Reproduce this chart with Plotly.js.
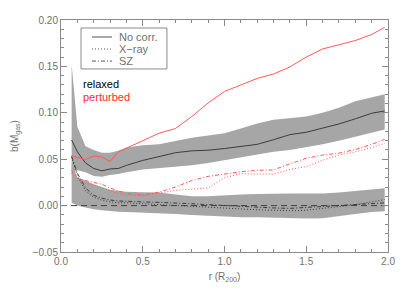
<!DOCTYPE html>
<html>
<head>
<meta charset="utf-8">
<script src="https://cdn.plot.ly/plotly-3.0.1.min.js"></script>
<style>html,body{margin:0;padding:0;background:#fff;}#plot{width:407px;height:291px;}</style>
</head>
<body>
<div id="plot"></div>
<script>
// radius in units of R200
var r = [0.065,0.1,0.15,0.2,0.25,0.3,0.35,0.4,0.5,0.6,0.7,0.8,0.9,1.0,1.1,1.2,1.3,1.4,1.5,1.6,1.7,1.8,1.9,1.98];

// relaxed, no correction: scatter band (upper/lower) and median
var relNoCorrHi = [0.152,0.085,0.064,0.060,0.057,0.057,0.059,0.0625,0.065,0.066,0.0695,0.073,0.0755,0.078,0.083,0.0885,0.0925,0.094,0.096,0.100,0.1055,0.1125,0.1165,0.120];
var relNoCorrLo = [0.035,0.038,0.036,0.032,0.031,0.033,0.034,0.036,0.039,0.0405,0.042,0.0435,0.046,0.049,0.052,0.055,0.058,0.060,0.063,0.066,0.070,0.074,0.078,0.082];
var relNoCorr   = [0.0707,0.058,0.046,0.040,0.0375,0.0395,0.040,0.0433,0.0487,0.0525,0.057,0.059,0.0597,0.0615,0.064,0.066,0.071,0.0765,0.079,0.0835,0.088,0.0935,0.0995,0.102];

// relaxed, corrected: scatter band
var relCorrHi = [0.045,0.030,0.027,0.023,0.020,0.017,0.016,0.015,0.0145,0.014,0.012,0.010,0.010,0.0112,0.012,0.0125,0.013,0.013,0.013,0.013,0.014,0.0155,0.017,0.0186];
var relCorrLo = [0.003,0.000,-0.002,-0.004,-0.005,-0.006,-0.0065,-0.007,-0.0075,-0.008,-0.009,-0.010,-0.011,-0.012,-0.0125,-0.0125,-0.013,-0.0135,-0.014,-0.0135,-0.011,-0.009,-0.007,-0.006];
var relXray = [0.052,0.032,0.016,0.009,0.006,0.004,0.003,0.003,0.002,0.001,0.0,-0.001,-0.002,-0.003,-0.004,-0.0045,-0.005,-0.0055,-0.005,-0.003,-0.001,0.001,0.004,0.0065];
var relSZ   = [0.053,0.035,0.019,0.011,0.008,0.006,0.005,0.0045,0.004,0.0035,0.003,0.002,0.001,0.0,-0.001,-0.002,-0.0025,-0.003,-0.002,-0.001,0.0,0.001,0.002,0.003];

// perturbed
var perNoCorr = [0.054,0.0517,0.0497,0.0534,0.0524,0.0475,0.0578,0.062,0.0696,0.078,0.0831,0.096,0.1106,0.123,0.130,0.137,0.1418,0.1494,0.160,0.1688,0.1733,0.1779,0.1844,0.1921];
var perXray   = [0.035,0.027,0.024,0.022,0.019,0.016,0.013,0.011,0.0105,0.0135,0.0165,0.0178,0.019,0.030,0.0345,0.034,0.034,0.039,0.042,0.049,0.0545,0.058,0.0625,0.0671];
var perSZ     = [0.038,0.029,0.027,0.025,0.023,0.019,0.016,0.013,0.0115,0.0145,0.020,0.027,0.0315,0.034,0.0365,0.038,0.0385,0.045,0.051,0.0545,0.0565,0.0605,0.066,0.0714];

var zeroX = [0, 2];
var zeroY = [0, 0];

var xTicks = [0.0, 0.5, 1.0, 1.5, 2.0];
var yTicks = [-0.05, 0.00, 0.05, 0.10, 0.15, 0.20];

var legendNames = ['No corr.', 'X\u2212ray', 'SZ'];

var BAND = '#a6a6a6', BLK = '#3c3c3c', RED = '#ff5a5a', AX = '#8a8a8a', TXT = '#707070';
var DOT = '1px,2px', DASHDOT = '4px,2px,1px,2px';
var FONT = 'Liberation Sans, Arial, sans-serif';

var traces = [
  {x: r, y: relCorrLo, mode: 'lines', line: {width: 0, color: BAND}, hoverinfo: 'skip'},
  {x: r, y: relCorrHi, mode: 'lines', line: {width: 0, color: BAND}, fill: 'tonexty', fillcolor: BAND, hoverinfo: 'skip'},
  {x: r, y: relNoCorrLo, mode: 'lines', line: {width: 0, color: BAND}, hoverinfo: 'skip'},
  {x: r, y: relNoCorrHi, mode: 'lines', line: {width: 0, color: BAND}, fill: 'tonexty', fillcolor: BAND, hoverinfo: 'skip'},
  {x: zeroX, y: zeroY, mode: 'lines', line: {width: 1, color: '#404040', dash: '6px,4px'}},
  {x: r, y: relNoCorr, mode: 'lines', name: legendNames[0], line: {width: 1, color: BLK}},
  {x: r, y: relXray, mode: 'lines', name: legendNames[1], line: {width: 1, color: BLK, dash: DOT}},
  {x: r, y: relSZ, mode: 'lines', name: legendNames[2], line: {width: 1, color: BLK, dash: DASHDOT}},
  {x: r, y: perNoCorr, mode: 'lines', line: {width: 1, color: RED}},
  {x: r, y: perXray, mode: 'lines', line: {width: 1, color: RED, dash: DOT}},
  {x: r, y: perSZ, mode: 'lines', line: {width: 1, color: RED, dash: DASHDOT}}
];

// legend drawn as a compact box (paper coordinates)
var legX0 = 0.0612, legX1 = 0.324, legY0 = 0.789, legY1 = 0.9655;
var sampX0 = 0.0948, sampX1 = 0.156, textX = 0.171;
var rowY = [0.9267, 0.875, 0.823];
var rowDash = ['solid', DOT, DASHDOT];

var shapes = [{type: 'rect', xref: 'paper', yref: 'paper', x0: legX0, x1: legX1, y0: legY0, y1: legY1,
               line: {color: AX, width: 1}, fillcolor: 'rgba(0,0,0,0)'}];
var annotations = [];
for (var i = 0; i < legendNames.length; i++) {
  shapes.push({type: 'line', xref: 'paper', yref: 'paper', x0: sampX0, x1: sampX1, y0: rowY[i], y1: rowY[i],
               line: {color: '#555', width: 1, dash: rowDash[i]}});
  annotations.push({xref: 'paper', yref: 'paper', x: textX, y: rowY[i], xanchor: 'left', yanchor: 'middle',
                    showarrow: false, text: legendNames[i], font: {family: FONT, size: 11, color: TXT}});
}
annotations.push({xref: 'paper', yref: 'paper', x: 0.061, y: 0.724, xanchor: 'left', yanchor: 'middle', showarrow: false,
                  text: 'relaxed', font: {family: FONT, size: 11, color: '#000'}});
annotations.push({xref: 'paper', yref: 'paper', x: 0.061, y: 0.668, xanchor: 'left', yanchor: 'middle', showarrow: false,
                  text: 'perturbed', font: {family: FONT, size: 11, color: '#ff2a2a'}});

var axisCommon = {
  showline: true, linecolor: AX, linewidth: 1, mirror: 'allticks',
  ticks: 'inside', ticklen: 6, tickcolor: AX, tickwidth: 1,
  showgrid: false, zeroline: false,
  tickfont: {family: FONT, size: 10, color: TXT}
};

var layout = {
  width: 407, height: 291,
  margin: {l: 61, r: 19, t: 20, b: 39},
  paper_bgcolor: '#fff', plot_bgcolor: '#fff',
  showlegend: false,
  xaxis: Object.assign({}, axisCommon, {
    range: [0, 2], tickvals: xTicks, tickformat: '.1f',
    minor: {ticks: 'inside', ticklen: 3, tickcolor: AX, dtick: 0.1, showgrid: false},
    title: {text: 'r (R<sub>200</sub>)', font: {family: FONT, size: 10, color: TXT}, standoff: 6}
  }),
  yaxis: Object.assign({}, axisCommon, {
    range: [-0.05, 0.20], tickvals: yTicks, tickformat: '.2f',
    minor: {ticks: 'inside', ticklen: 3, tickcolor: AX, dtick: 0.01, showgrid: false},
    title: {text: 'b(M<sub>gas</sub>)', font: {family: FONT, size: 10, color: TXT}, standoff: 12}
  }),
  shapes: shapes,
  annotations: annotations
};

Plotly.newPlot('plot', traces, layout, {displayModeBar: false, staticPlot: true});
</script>
</body>
</html>
